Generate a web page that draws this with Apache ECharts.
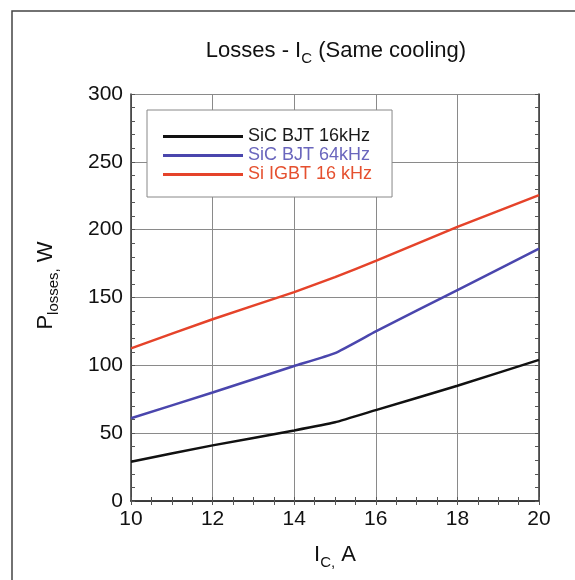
<!DOCTYPE html>
<html>
<head>
<meta charset="utf-8">
<script src="https://cdn.jsdelivr.net/npm/echarts@6/dist/echarts.min.js"></script>
<style>
html,body{margin:0;padding:0;background:#fff;}
#c{width:575px;height:580px;}
</style>
</head>
<body>
<div id="c"></div>
<script>
// Data
var currentA = [10, 12, 14, 15, 16, 18, 20];
var sicBjt16 = [29, 41, 52, 58, 67, 85, 104];
var sicBjt64 = [61, 80, 99.5, 109, 125, 155.5, 186];
var siIgbt16 = [112.5, 134, 154, 165, 177, 202, 225.5];
var seriesNames = ['SiC BJT 16kHz', 'SiC BJT 64kHz', 'Si IGBT 16 kHz'];
var seriesColors = ['#111111', '#4a46ad', '#e5432a'];
var legendTextColors = ['#1a1a1a', '#6a66bd', '#e5502f'];

function pairs(xs, ys) { return xs.map(function (x, i) { return [x, ys[i]]; }); }
var allValues = [sicBjt16, sicBjt64, siIgbt16];

var FONT = '"Liberation Sans", Arial, sans-serif';
var textColor = '#111';

var axisCommon = {
  axisLine: { show: true, lineStyle: { color: '#333', width: 1.5 } },
  axisTick: { show: true, inside: true, length: 4, lineStyle: { color: '#555', width: 1 } }
};

var chart = echarts.init(document.getElementById('c'), null, { renderer: 'canvas' });
chart.setOption({
  backgroundColor: '#fff',
  animation: false,
  title: {
    text: 'Losses - I{sub|C} (Same cooling)',
    left: 331,
    textAlign: 'center',
    top: 31,
    textStyle: {
      fontFamily: FONT, fontSize: 22, fontWeight: 'normal', color: textColor,
      rich: { sub: { fontFamily: FONT, fontSize: 15, color: textColor, padding: [15, 0, 0, 0] } }
    }
  },
  graphic: [{
    type: 'polyline',
    shape: { points: [[12, 600], [12, 11], [600, 11]] },
    style: { stroke: '#444', lineWidth: 1.5, fill: null },
    z: 100
  }],
  grid: { left: 131, right: 36, top: 94, bottom: 79 },
  legend: {
    orient: 'vertical',
    left: 147, top: 110,
    padding: [17, 20, 13, 16],
    backgroundColor: '#fff',
    borderColor: '#888', borderWidth: 1,
    itemWidth: 80, itemHeight: 3, itemGap: 0,
    icon: 'rect',
    textStyle: { fontFamily: FONT, fontSize: 18, lineHeight: 19, color: textColor },
    data: seriesNames.map(function (n, i) {
      return { name: n, textStyle: { color: legendTextColors[i] } };
    })
  },
  xAxis: [
    Object.assign({}, axisCommon, {
      type: 'value', min: 10, max: 20, interval: 2, position: 'bottom',
      name: 'I{sub|C,} A', nameLocation: 'middle', nameGap: 39,
      nameTextStyle: {
        fontFamily: FONT, fontSize: 22, color: textColor,
        rich: { sub: { fontFamily: FONT, fontSize: 15, color: textColor, padding: [15, 0, 0, 0] } }
      },
      minorTick: { show: true, splitNumber: 4, length: 4, lineStyle: { color: '#555', width: 1 } },
      axisLabel: { fontFamily: FONT, fontSize: 21, color: textColor, margin: 8 },
      splitLine: { show: true, lineStyle: { color: '#8a8a8a', width: 1 } }
    }),
    Object.assign({}, axisCommon, {
      type: 'value', min: 10, max: 20, interval: 2, position: 'top',
      minorTick: { show: true, splitNumber: 4, length: 4, lineStyle: { color: '#555', width: 1 } },
      axisLabel: { show: false },
      splitLine: { show: false }
    })
  ],
  yAxis: [
    Object.assign({}, axisCommon, {
      type: 'value', min: 0, max: 300, interval: 50, position: 'left',
      name: 'P{sub|losses,} W', nameLocation: 'middle', nameGap: 70, nameRotate: 90,
      nameTextStyle: {
        fontFamily: FONT, fontSize: 22, color: textColor, padding: [0, 0, 0, 24],
        rich: { sub: { fontFamily: FONT, fontSize: 15, color: textColor, padding: [15, 0, 0, 0] } }
      },
      minorTick: { show: true, splitNumber: 5, length: 4, lineStyle: { color: '#555', width: 1 } },
      axisLabel: { fontFamily: FONT, fontSize: 21, color: textColor, margin: 8 },
      splitLine: { show: true, lineStyle: { color: '#8a8a8a', width: 1 } }
    }),
    Object.assign({}, axisCommon, {
      type: 'value', min: 0, max: 300, interval: 50, position: 'right',
      minorTick: { show: true, splitNumber: 5, length: 4, lineStyle: { color: '#555', width: 1 } },
      axisLabel: { show: false },
      splitLine: { show: false }
    })
  ],
  series: seriesNames.map(function (n, i) {
    return {
      name: n, type: 'line', xAxisIndex: 0, yAxisIndex: 0,
      data: pairs(currentA, allValues[i]),
      showSymbol: false, symbol: 'none', smooth: 0.15,
      lineStyle: { color: seriesColors[i], width: 2.5 },
      itemStyle: { color: seriesColors[i] },
      z: 3
    };
  })
});
</script>
</body>
</html>
